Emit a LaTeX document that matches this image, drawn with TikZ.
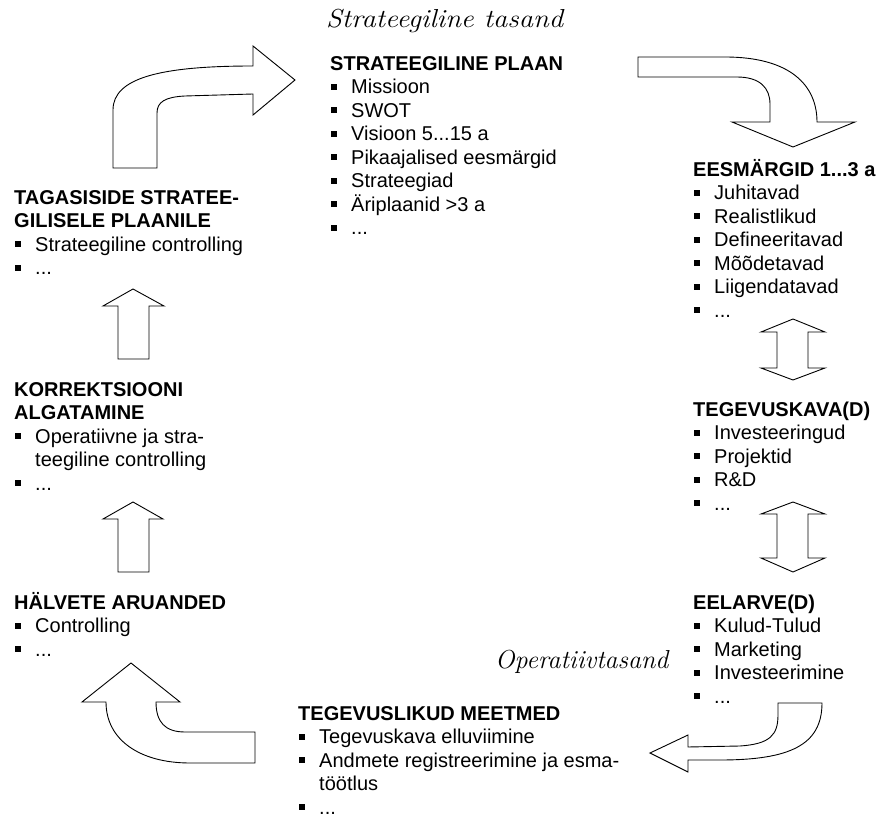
\documentclass[tikz,border=0pt]{standalone}
\usepackage{graphicx}
\usepackage{fontspec}
\newfontfamily\arialfont{Liberation Sans}
% square list bullet with hanging indent
\newcommand\bul{\hspace*{1pt}\makebox[20pt][l]{\rule[4pt]{6pt}{6pt}}}
\newcommand\contln{\hspace*{21pt}}
\newcommand\firstln{\rule{0pt}{19pt}}
% wide italic for the upper level label
\newcommand\widelabel[1]{\scalebox{1.1}[1]{#1}}
\begin{document}
\begin{tikzpicture}[x=1pt,y=-1pt,
  blockarrow/.style={draw=black, line width=0.9pt, fill=white, line join=miter},
  txtblock/.style={anchor=north west, inner sep=0pt, align=left,
    font=\arialfont\fontsize{20}{23.5}\selectfont},
  levellabel/.style={anchor=base west, inner sep=0pt,
    font=\itshape\fontsize{26}{30}\selectfont}]
\useasboundingbox (0,0) rectangle (879,818);

% level labels
\node[levellabel] (strlevel) at (326,28) {\widelabel{Strateegiline tasand}};
\node[levellabel] (oplevel) at (495,668) {Operatiivtasand};

% text blocks
\node[txtblock] (plan) at (330,51) {\firstln\textbf{STRATEEGILINE PLAAN}\\
  \bul Missioon\\ \bul SWOT\\ \bul Visioon 5...15 a\\ \bul Pikaajalised eesmärgid\\
  \bul Strateegiad\\ \bul Äriplaanid >3 a\\ \bul ...};
\node[txtblock] (goals) at (693,157) {\firstln\textbf{EESMÄRGID 1...3 a}\\
  \bul Juhitavad\\ \bul Realistlikud\\ \bul Defineeritavad\\ \bul Mõõdetavad\\
  \bul Liigendatavad\\ \bul ...};
\node[txtblock] (activity) at (693,397) {\firstln\textbf{TEGEVUSKAVA(D)}\\
  \bul Investeeringud\\ \bul Projektid\\ \bul R\&D\\ \bul ...};
\node[txtblock] (budget) at (693,590) {\firstln\textbf{EELARVE(D)}\\
  \bul Kulud-Tulud\\ \bul Marketing\\ \bul Investeerimine\\ \bul ...};
\node[txtblock] (measures) at (298,701) {\firstln\textbf{TEGEVUSLIKUD MEETMED}\\
  \bul Tegevuskava elluviimine\\ \bul Andmete registreerimine ja esma-\\
  \contln töötlus\\ \bul ...};
\node[txtblock] (deviation) at (14,590) {\firstln\textbf{HÄLVETE ARUANDED}\\
  \bul Controlling\\ \bul ...};
\node[txtblock] (correction) at (14,377) {\firstln\textbf{KORREKTSIOONI}\\
  \textbf{ALGATAMINE}\\ \bul Operatiivne ja stra-\\ \contln teegiline controlling\\ \bul ...};
\node[txtblock] (feedback) at (14,185) {\firstln\textbf{TAGASISIDE STRATEE-}\\
  \textbf{GILISELE PLAANILE}\\ \bul Strateegiline controlling\\ \bul ...};

% bent arrow: feedback -> strategic plan
\draw[blockarrow] (113,168) -- (113,110) .. controls (113,78) and (160,66) .. (253,66)
  -- (253,46) -- (295,80) -- (253,115) -- (253,94) -- (185,96)
  .. controls (165,97) and (157,102) .. (157,113) -- (157,168) -- cycle;

% curved arrow: strategic plan -> goals
\draw[blockarrow] (638,57) -- (725,57) .. controls (790,57) and (817,85) .. (817,122)
  -- (855,122) -- (793,147) -- (732,122) -- (770,122) -- (770,104)
  .. controls (770,88) and (760,77) .. (737,77) -- (638,77) -- cycle;

% double arrows on the right
\draw[blockarrow] (793,319) -- (825,332) -- (808,332) -- (808,368) -- (825,368)
  -- (793,380) -- (761,368) -- (777,368) -- (777,332) -- (761,332) -- cycle;
\draw[blockarrow] (793,502) -- (825,514) -- (808,514) -- (808,558) -- (825,558)
  -- (793,572) -- (761,558) -- (777,558) -- (777,514) -- (761,514) -- cycle;

% curved arrow: budget -> measures
\draw[blockarrow] (822,703) .. controls (822,745) and (790,760) .. (720,760) -- (688,760)
  -- (688,772) -- (650,753) -- (688,735) -- (688,747) -- (740,746)
  .. controls (770,744) and (778,735) .. (778,715) -- (778,703) -- cycle;

% curved arrow: measures -> deviation reports
\draw[blockarrow] (255,732) -- (185,732) .. controls (165,732) and (156,722) .. (156,702)
  -- (180,702) -- (131,663) -- (82,702) -- (106,702)
  .. controls (106,740) and (140,763) .. (190,763) -- (255,763) -- cycle;

% up arrows on the left
\draw[blockarrow] (133,502) -- (163,519) -- (149,519) -- (149,572) -- (118,572)
  -- (118,519) -- (103,519) -- cycle;
\draw[blockarrow] (133,289) -- (164,306) -- (149,306) -- (149,359) -- (118,359)
  -- (118,306) -- (103,306) -- cycle;
\end{tikzpicture}
\end{document}
